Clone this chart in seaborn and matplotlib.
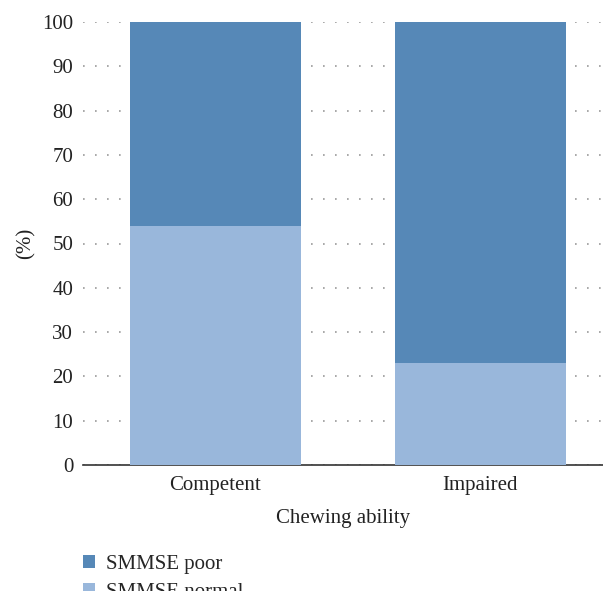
import matplotlib
matplotlib.use("Agg")
import matplotlib.pyplot as plt
import seaborn as sns
import pandas as pd
from matplotlib.patches import Patch

categories = ["Competent", "Impaired"]
smmse_normal = [54, 23]
smmse_poor = [46, 77]
yticks = [0, 10, 20, 30, 40, 50, 60, 70, 80, 90, 100]

color_poor = "#5688b7"
color_normal = "#99b7db"

sns.set_theme(style="white")
plt.rcParams['font.family'] = ['Liberation Serif', 'DejaVu Serif']

df = pd.DataFrame({
    "cat": categories,
    "normal": smmse_normal,
    "total": [n + p for n, p in zip(smmse_normal, smmse_poor)],
})

fs = 15
fig = plt.figure(figsize=(6.03, 5.91), dpi=100)
ax = fig.add_axes([83/603, 1 - 465/591, 520/603, (465 - 22)/591])

sns.barplot(data=df, x="cat", y="total", color=color_poor, saturation=1,
            width=0.645, ax=ax, zorder=2)
sns.barplot(data=df, x="cat", y="normal", color=color_normal, saturation=1,
            width=0.645, ax=ax, zorder=3)
for p in ax.patches:
    p.set_edgecolor("none")

ax.set_xlim(-0.5, 1.4623)
ax.set_ylim(0, 100)
ax.set_yticks(yticks)
ax.set_yticklabels([str(t) for t in yticks], fontsize=fs, color="#222222")
ax.tick_params(axis="x", labelsize=fs, colors="#222222", length=0, pad=8)
ax.tick_params(axis="y", length=0, pad=7)
ax.set_axisbelow(True)
ax.yaxis.grid(True, color="#9a9a9a", linewidth=1.2, linestyle=(0, (1, 6.2)))
ax.xaxis.grid(False)
for s in ["top", "right", "left"]:
    ax.spines[s].set_visible(False)
ax.spines["bottom"].set_color("#333333")
ax.spines["bottom"].set_linewidth(1.2)

ax.set_xlabel("Chewing ability", fontsize=fs, color="#222222", labelpad=10)
ax.set_ylabel("(%)", fontsize=fs, color="#222222", labelpad=5)

handles = [Patch(facecolor=color_poor, edgecolor="none", label="SMMSE poor"),
           Patch(facecolor=color_normal, edgecolor="none", label="SMMSE normal")]
fig.legend(handles=handles, loc="upper left", bbox_to_anchor=(75/603, 1 - 547/591),
           frameon=False, fontsize=fs, handlelength=0.58, handleheight=0.58,
           handletextpad=0.5, labelspacing=0.42, borderaxespad=0)

fig.savefig("out.png", dpi=100)
